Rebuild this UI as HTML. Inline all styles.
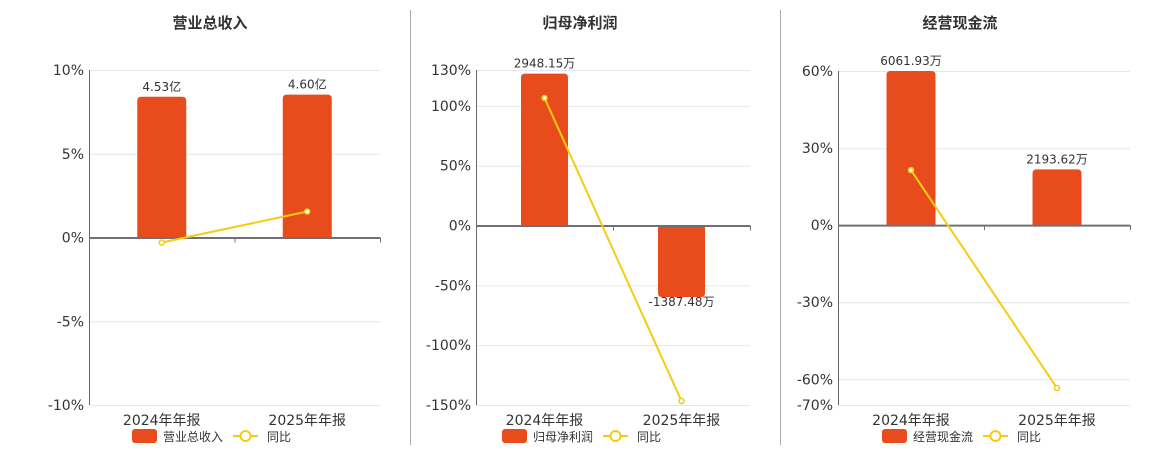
<!DOCTYPE html>
<html><head><meta charset="utf-8">
<style>
html,body{margin:0;padding:0;background:#fff;}
svg{display:block;font-family:"DejaVu Sans","Noto Sans CJK SC",sans-serif;}
</style></head>
<body>
<svg id="root" width="1160" height="450" viewBox="0 0 1160 450">
<line x1="410.5" y1="10" x2="410.5" y2="445" stroke="#aaa"/>
<line x1="780.5" y1="10" x2="780.5" y2="445" stroke="#aaa"/>
</svg>
<script>
const categories = ["2024年年报","2025年年报"];
// chart 1: 营业总收入
const c1Title = "营业总收入";
const c1Bars = [4.53, 4.60];
const c1BarLabels = ["4.53亿","4.60亿"];
const c1Yoy = [-0.3, 1.55];
const c1Ticks = [10, 5, 0, -5, -10];
// chart 2: 归母净利润
const c2Title = "归母净利润";
const c2Bars = [2948.15, -1387.48];
const c2BarLabels = ["2948.15万","-1387.48万"];
const c2Yoy = [106.6, -146.7];
const c2Ticks = [130, 100, 50, 0, -50, -100, -150];
// chart 3: 经营现金流
const c3Title = "经营现金流";
const c3Bars = [6061.93, 2193.62];
const c3BarLabels = ["6061.93万","2193.62万"];
const c3Yoy = [21.4, -63.4];
const c3Ticks = [60, 30, 0, -30, -60, -70];

const NS = "http://www.w3.org/2000/svg";
const root = document.getElementById("root");
function mk(tag, attrs, parent){const e=document.createElementNS(NS,tag);for(const k in attrs)e.setAttribute(k,attrs[k]);(parent||root).appendChild(e);return e;}

function drawChart(id, title, bars, barLabels, yoy, ticks, x0, x1, top, bottom, titleX, barTopPct, barW){
  const g = mk("g",{});
  
  
  const yMax = ticks[0], yMin = ticks[ticks.length-1];
  const y = v => top + (yMax - v) / (yMax - yMin) * (bottom - top);
  const bw = (x1 - x0) / categories.length;
  const cx = i => x0 + bw * (i + 0.5);
  const maxAbs = Math.max(...bars.map(Math.abs));
  const bp = v => v / maxAbs * barTopPct;
  const t = mk("text",{x:titleX,y:28,"text-anchor":"middle","font-size":15,"font-weight":"bold",fill:"#333"},g);
  t.textContent = title;
  
  
  ticks.forEach(v=>{
    const gl = mk("line",{x1:x0,x2:x1,y1:y(v)+.5,y2:y(v)+.5,stroke:"#e3e6ee"},g);
    
    
    const tl = mk("text",{x:x0-5,y:y(v)+5,"text-anchor":"end","font-size":14,fill:"#333"},g);
    tl.textContent = v + "%";
    
    
  });
  const ya = mk("line",{x1:x0+.5,x2:x0+.5,y1:top,y2:bottom,stroke:"#666"},g);
  
  
  bars.forEach((v,i)=>{
    const yt = y(Math.max(0,bp(v))), yb = y(Math.min(0,bp(v)));
    const r = 4;
    let d;
    if (v >= 0) d = `M${cx(i)-barW/2},${yb}V${yt+r}Q${cx(i)-barW/2},${yt} ${cx(i)-barW/2+r},${yt}H${cx(i)+barW/2-r}Q${cx(i)+barW/2},${yt} ${cx(i)+barW/2},${yt+r}V${yb}Z`;
    else d = `M${cx(i)-barW/2},${yt}V${yb-r}Q${cx(i)-barW/2},${yb} ${cx(i)-barW/2+r},${yb}H${cx(i)+barW/2-r}Q${cx(i)+barW/2},${yb} ${cx(i)+barW/2},${yb-r}V${yt}Z`;
    const b = mk("path",{d:d,fill:"#e84c1c"},g);
    
    
    const lb = mk("text",{x:cx(i),y: v>=0 ? yt-6 : yb+9,"text-anchor":"middle","font-size":12,fill:"#333"},g);
    lb.textContent = barLabels[i];
    
    
    const xl = mk("text",{x:cx(i),y:425,"text-anchor":"middle","font-size":14,fill:"#333"},g);
    xl.textContent = categories[i];
    
    
  });
  const xa = mk("line",{x1:x0,x2:x1,y1:y(0)+.5,y2:y(0)+.5,stroke:"#6e7079","stroke-width":2},g);
  
  
  [0,1,2].forEach(k=>{
    const tk = mk("line",{x1:x0+bw*k+.5,x2:x0+bw*k+.5,y1:y(0),y2:y(0)+5,stroke:"#6e7079"},g);
    
    
  });
  const pl = mk("polyline",{points:yoy.map((v,i)=>cx(i)+","+y(v)).join(" "),fill:"none",stroke:"#f5cc12","stroke-width":2},g);
  
  
  yoy.forEach((v,i)=>{
    const c = mk("circle",{cx:cx(i),cy:y(v),r:2.5,fill:"#fff",stroke:"#f5cc12","stroke-width":1.5},g);
    
    
  });
  const lx = titleX - 74;
  const lg = mk("g",{},g);
  
  
  mk("rect",{x:lx-4,y:429,width:25,height:14,rx:3,fill:"#e84c1c"},lg);
  const lt = mk("text",{x:lx+27,y:441,"font-size":12,fill:"#333"},lg);
  lt.textContent = title;
  mk("line",{x1:lx+97,x2:lx+122,y1:436,y2:436,stroke:"#f5cc12","stroke-width":2},lg);
  mk("circle",{cx:lx+109.5,cy:436,r:5,fill:"#fff",stroke:"#f5cc12","stroke-width":2},lg);
  const lt2 = mk("text",{x:lx+131,y:441,"font-size":12,fill:"#333"},lg);
  lt2.textContent = "同比";
}
drawChart("revenue-chart", c1Title, c1Bars, c1BarLabels, c1Yoy, c1Ticks, 89, 380, 70, 405, 210, 8.53, 49);
drawChart("net-profit-chart", c2Title, c2Bars, c2BarLabels, c2Yoy, c2Ticks, 476, 750, 70, 405, 580, 127, 47);
drawChart("cash-flow-chart", c3Title, c3Bars, c3BarLabels, c3Yoy, c3Ticks, 838, 1130, 71, 405, 960, 60, 49);
</script>
</body></html>
